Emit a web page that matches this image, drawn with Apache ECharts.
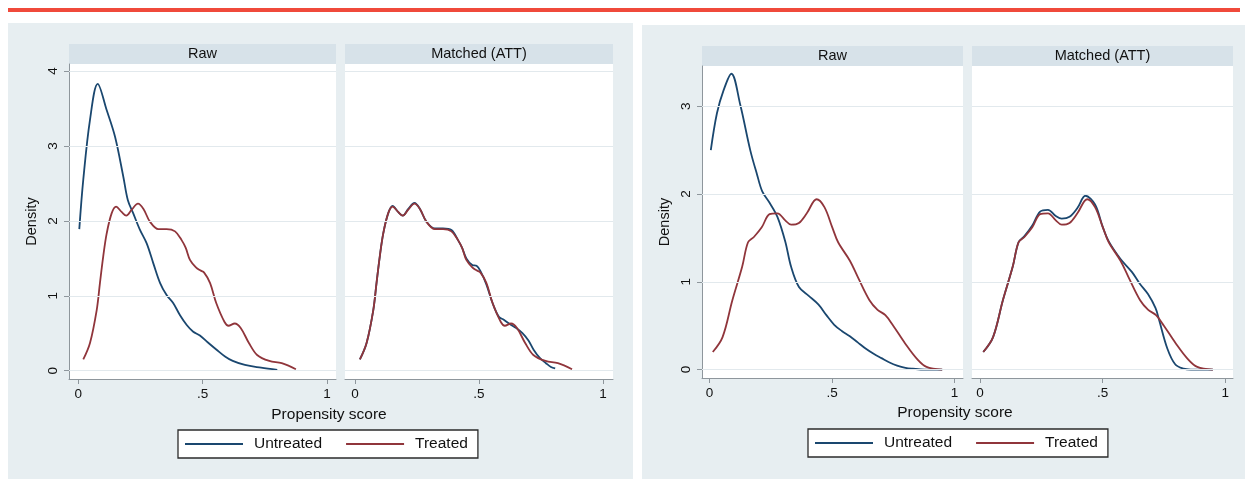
<!DOCTYPE html>
<html>
<head>
<meta charset="utf-8">
<script src="https://cdn.jsdelivr.net/npm/echarts@6/dist/echarts.min.js"></script>
<style>
  html, body { margin: 0; padding: 0; background: #fff; }
  #chart { width: 1245px; height: 479px; }
</style>
</head>
<body>
<div id="chart"></div>
<script>
// kernel density curves, [propensity score, density]
const leftRawUntreated = [[0.004,1.89],[0.02,2.55],[0.047,3.35],[0.078,3.83],[0.114,3.48],[0.148,3.12],[0.181,2.59],[0.199,2.28],[0.221,2.10],[0.248,1.88],[0.275,1.70],[0.302,1.43],[0.329,1.17],[0.355,1.01],[0.382,0.90],[0.409,0.74],[0.436,0.61],[0.462,0.52],[0.489,0.47],[0.52,0.38],[0.556,0.28],[0.59,0.19],[0.621,0.13],[0.67,0.076],[0.735,0.04],[0.80,0.01]];
const leftRawTreated = [[0.02,0.15],[0.047,0.37],[0.074,0.81],[0.087,1.17],[0.10,1.52],[0.114,1.83],[0.134,2.10],[0.152,2.19],[0.174,2.12],[0.193,2.07],[0.215,2.15],[0.24,2.23],[0.262,2.16],[0.288,1.99],[0.322,1.89],[0.355,1.89],[0.389,1.86],[0.416,1.74],[0.432,1.64],[0.449,1.48],[0.473,1.38],[0.49,1.34],[0.506,1.31],[0.53,1.17],[0.555,0.90],[0.588,0.65],[0.604,0.60],[0.629,0.63],[0.653,0.57],[0.686,0.37],[0.719,0.21],[0.768,0.13],[0.818,0.10],[0.875,0.02]];
const leftMatchedUntreated = [[0.02,0.15],[0.047,0.37],[0.074,0.81],[0.087,1.17],[0.10,1.52],[0.114,1.83],[0.134,2.10],[0.152,2.20],[0.174,2.12],[0.193,2.07],[0.215,2.16],[0.24,2.24],[0.262,2.16],[0.288,1.99],[0.322,1.90],[0.355,1.90],[0.389,1.88],[0.416,1.74],[0.432,1.64],[0.449,1.50],[0.473,1.41],[0.49,1.40],[0.506,1.33],[0.53,1.15],[0.555,0.90],[0.58,0.72],[0.60,0.68],[0.625,0.62],[0.65,0.57],[0.675,0.50],[0.70,0.40],[0.72,0.28],[0.745,0.17],[0.77,0.10],[0.79,0.05],[0.807,0.03]];
const leftMatchedTreated = leftRawTreated;

const rightRawUntreated = [[0.005,2.50],[0.03,2.92],[0.057,3.18],[0.089,3.37],[0.125,3.02],[0.166,2.50],[0.194,2.22],[0.215,2.03],[0.245,1.90],[0.277,1.74],[0.309,1.46],[0.333,1.17],[0.365,0.94],[0.405,0.84],[0.445,0.74],[0.477,0.62],[0.509,0.51],[0.54,0.44],[0.573,0.38],[0.605,0.31],[0.637,0.24],[0.67,0.18],[0.702,0.13],[0.735,0.08],[0.766,0.045],[0.80,0.02],[0.83,0.01],[0.878,0.0],[0.95,0.0]];
const rightRawTreated = [[0.013,0.20],[0.053,0.37],[0.093,0.79],[0.133,1.17],[0.157,1.45],[0.181,1.51],[0.213,1.62],[0.245,1.77],[0.277,1.78],[0.309,1.70],[0.333,1.65],[0.365,1.67],[0.397,1.78],[0.437,1.94],[0.469,1.85],[0.501,1.62],[0.525,1.45],[0.573,1.24],[0.606,1.05],[0.653,0.79],[0.686,0.68],[0.718,0.62],[0.75,0.50],[0.798,0.30],[0.846,0.125],[0.886,0.03],[0.95,0.0]];
const rightMatchedUntreated = [[0.013,0.20],[0.053,0.37],[0.093,0.79],[0.133,1.17],[0.157,1.45],[0.181,1.52],[0.213,1.64],[0.245,1.80],[0.277,1.82],[0.309,1.75],[0.333,1.72],[0.365,1.74],[0.397,1.84],[0.43,1.98],[0.469,1.88],[0.501,1.62],[0.525,1.46],[0.573,1.26],[0.62,1.11],[0.651,0.98],[0.685,0.86],[0.716,0.70],[0.73,0.57],[0.764,0.24],[0.796,0.06],[0.83,0.01],[0.86,0.0],[0.95,0.0]];
const rightMatchedTreated = rightRawTreated;

const panelTitles = ['Raw', 'Matched (ATT)'];
const legendNames = ['Untreated', 'Treated'];
const xTicks = [0, 0.5, 1];
const yTicksLeft = [0, 1, 2, 3, 4];
const yTicksRight = [0, 1, 2, 3];

const chart = echarts.init(document.getElementById('chart'));

const FONT = '"Liberation Sans", Arial, sans-serif';
const NAVY = '#1a476f';
const MAROON = '#90353b';
const AXIS = '#8e969c';
const GRIDLINE = '#e2e9ed';
const BG = '#e7eef1';
const STRIP = '#d7e2e9';

// pixel boxes of the four plot regions
const grids = [
  { left: 69, top: 64, width: 267, height: 315 },
  { left: 345, top: 64, width: 268, height: 315 },
  { left: 702, top: 66, width: 261, height: 312 },
  { left: 972, top: 66, width: 261, height: 312 }
];
const xRanges = [[-0.0374, 1.0362], [-0.040, 1.040], [-0.031, 1.035], [-0.033, 1.032]];
const yRanges = [[-0.111, 4.095], [-0.111, 4.095], [-0.096, 3.458], [-0.096, 3.458]];
const yTickSets = [yTicksLeft, yTicksLeft, yTicksRight, yTicksRight];
const curves = [
  [leftRawUntreated, leftRawTreated],
  [leftMatchedUntreated, leftMatchedTreated],
  [rightRawUntreated, rightRawTreated],
  [rightMatchedUntreated, rightMatchedTreated]
];

const xAxis = grids.map(function (g, i) {
  return {
    type: 'value', gridIndex: i, min: xRanges[i][0], max: xRanges[i][1],
    axisLine: { show: true, onZero: false, lineStyle: { color: AXIS, width: 1 } },
    axisTick: { show: true, length: 5, customValues: xTicks, lineStyle: { color: AXIS } },
    axisLabel: {
      show: true, customValues: xTicks, margin: 8, fontSize: 13.5, color: '#111', fontFamily: FONT,
      formatter: function (v) { return v === 0.5 ? '.5' : String(v); }
    },
    splitLine: { show: false }
  };
});

const yAxis = grids.map(function (g, i) {
  const first = (i % 2 === 0);
  return {
    type: 'value', gridIndex: i, min: yRanges[i][0], max: yRanges[i][1],
    show: first,
    name: first ? 'Density' : '',
    nameLocation: 'middle', nameRotate: 90, nameGap: 30,
    nameTextStyle: { fontSize: 14.5, color: '#111', fontFamily: FONT },
    axisLine: { show: true, onZero: false, lineStyle: { color: AXIS, width: 1 } },
    axisTick: { show: true, length: 5, customValues: yTickSets[i], lineStyle: { color: AXIS } },
    axisLabel: { show: true, customValues: yTickSets[i], rotate: 90, margin: 9, fontSize: 13.5, color: '#111', fontFamily: FONT },
    splitLine: { show: false }
  };
});

const series = [];
grids.forEach(function (g, i) {
  // horizontal grid lines at the tick values
  series.push({
    type: 'line', xAxisIndex: i, yAxisIndex: i, data: [], silent: true, z: 1,
    markLine: {
      silent: true, symbol: 'none', animation: false,
      label: { show: false },
      lineStyle: { color: GRIDLINE, width: 1, type: 'solid' },
      data: yTickSets[i].map(function (v) { return { yAxis: v }; })
    }
  });
  [NAVY, MAROON].forEach(function (c, k) {
    series.push({
      name: legendNames[k], type: 'line', xAxisIndex: i, yAxisIndex: i,
      data: curves[i][k], showSymbol: false, smooth: 0.35, z: 3,
      color: c, itemStyle: { color: c },
      lineStyle: { color: c, width: 1.8 }
    });
  });
});

function legendAt(left, top) {
  return {
    left: left, top: top, orient: 'horizontal', data: legendNames, selectedMode: false,
    icon: 'rect', itemWidth: 58, itemHeight: 2, itemGap: 24,
    padding: [6, 10, 6, 7],
    borderColor: '#2b2b2b', borderWidth: 1.3, backgroundColor: '#fff',
    textStyle: { fontSize: 15.5, color: '#111', fontFamily: FONT, padding: [0, 0, 0, 6] }
  };
}

const graphic = [
  { type: 'rect', z: -2, shape: { x: 8, y: 8, width: 1232, height: 4 }, style: { fill: '#f04a3b' } },
  { type: 'rect', z: -2, shape: { x: 8, y: 23, width: 625, height: 456 }, style: { fill: BG } },
  { type: 'rect', z: -2, shape: { x: 642, y: 25, width: 603, height: 454 }, style: { fill: BG } }
];
grids.forEach(function (g, i) {
  const top = i < 2 ? 44 : 46;
  graphic.push({ type: 'rect', z: -1, shape: { x: g.left, y: top, width: g.width, height: 20 }, style: { fill: STRIP } });
  graphic.push({
    type: 'text', z: 5, x: g.left + g.width / 2, y: top + 10,
    style: { text: panelTitles[i % 2], fontSize: 14.5, fontFamily: FONT, fill: '#111', align: 'center', verticalAlign: 'middle' }
  });
});
graphic.push({ type: 'text', x: 329, y: 415, style: { text: 'Propensity score', fontSize: 15.5, fontFamily: FONT, fill: '#111', align: 'center', verticalAlign: 'middle' } });
graphic.push({ type: 'text', x: 955, y: 413, style: { text: 'Propensity score', fontSize: 15.5, fontFamily: FONT, fill: '#111', align: 'center', verticalAlign: 'middle' } });

chart.setOption({
  animation: false,
  backgroundColor: '#fff',
  grid: grids.map(function (g) {
    return { left: g.left, top: g.top, width: g.width, height: g.height, show: true, backgroundColor: '#fff', borderWidth: 0, containLabel: false };
  }),
  xAxis: xAxis,
  yAxis: yAxis,
  legend: [legendAt(178, 430), legendAt(808, 429)],
  graphic: graphic,
  series: series
});
</script>
</body>
</html>
